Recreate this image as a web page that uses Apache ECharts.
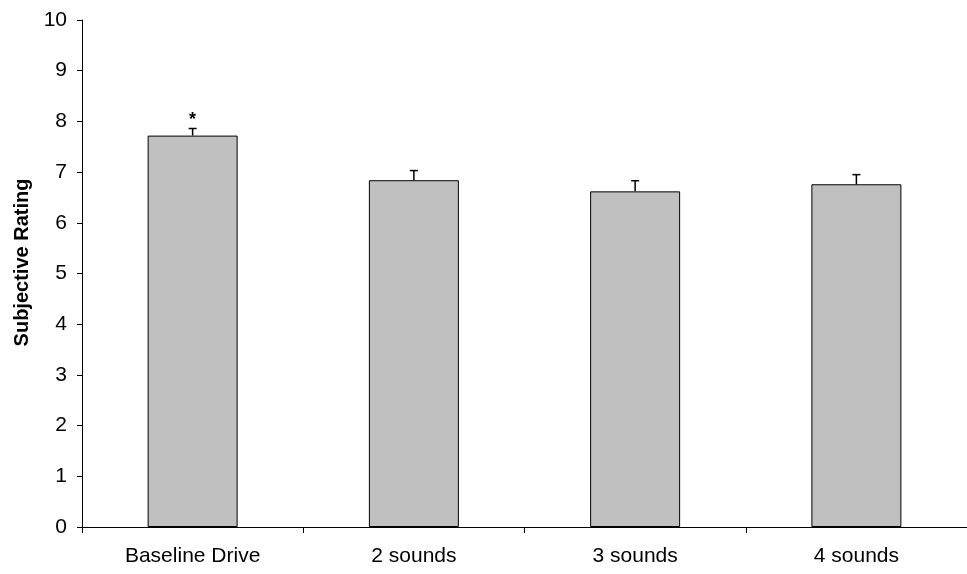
<!DOCTYPE html>
<html>
<head>
<meta charset="utf-8">
<script src="https://cdn.jsdelivr.net/npm/echarts@6/dist/echarts.min.js"></script>
<style>html,body{margin:0;padding:0;background:#fff;}#c{width:967px;height:574px;}</style>
</head>
<body>
<div id="c"></div>
<script>
const categories = ['Baseline Drive', '2 sounds', '3 sounds', '4 sounds'];
const means = [7.72, 6.84, 6.62, 6.76];
const errors = [0.14, 0.19, 0.21, 0.19];
const marks = ['*', '', '', ''];
const yTicks = [0, 1, 2, 3, 4, 5, 6, 7, 8, 9, 10];

const FONT = '"Liberation Sans", Arial, sans-serif';
const chart = echarts.init(document.getElementById('c'), null, {renderer: 'canvas'});

const errData = categories.map((c, i) => [i, means[i], means[i] + errors[i], marks[i]]);

chart.setOption({
  animation: false,
  backgroundColor: '#fff',
  grid: {left: 82, right: 0, top: 20, bottom: 47, containLabel: false, outerBoundsMode: 'none'},
  xAxis: {
    type: 'category',
    data: categories,
    boundaryGap: true,
    axisLine: {lineStyle: {color: '#000', width: 1}},
    axisTick: {show: true, alignWithLabel: false, length: 6, lineStyle: {color: '#000'}},
    axisLabel: {color: '#000', fontFamily: FONT, fontSize: 21, margin: 19}
  },
  yAxis: {
    type: 'value',
    min: yTicks[0],
    max: yTicks[yTicks.length - 1],
    interval: 1,
    name: 'Subjective Rating',
    nameLocation: 'middle',
    nameGap: 49,
    nameRotate: 90,
    nameTextStyle: {color: '#000', fontFamily: FONT, fontSize: 20, fontWeight: 'bold', padding: [0, 0, 0, 22]},
    axisLine: {show: true, lineStyle: {color: '#000', width: 1}},
    axisTick: {show: true, length: 5, lineStyle: {color: '#000'}},
    axisLabel: {color: '#000', fontFamily: FONT, fontSize: 21, margin: 15},
    splitLine: {show: false}
  },
  series: [
    {
      type: 'bar',
      data: means,
      barWidth: 90,
      itemStyle: {color: '#c0c0c0', borderColor: '#000', borderWidth: 1}
    },
    {
      type: 'custom',
      data: errData,
      z: 5,
      renderItem: function (params, api) {
        const x = api.coord([api.value(0), api.value(1)])[0];
        const yLow = api.coord([api.value(0), api.value(1)])[1];
        const yHigh = api.coord([api.value(0), api.value(2)])[1];
        const half = 4;
        const children = [
          {type: 'line', shape: {x1: x, y1: yLow, x2: x, y2: yHigh}, style: {stroke: '#000', lineWidth: 1.5}},
          {type: 'line', shape: {x1: x - half, y1: yHigh, x2: x + half, y2: yHigh}, style: {stroke: '#000', lineWidth: 1.5}}
        ];
        const m = errData[params.dataIndex][3];
        if (m) {
          children.push({type: 'text', style: {text: m, x: x, y: yHigh - 8, align: 'center', verticalAlign: 'middle', font: 'bold 18px ' + FONT, fill: '#000'}});
        }
        return {type: 'group', children: children};
      }
    }
  ]
});
</script>
</body>
</html>
